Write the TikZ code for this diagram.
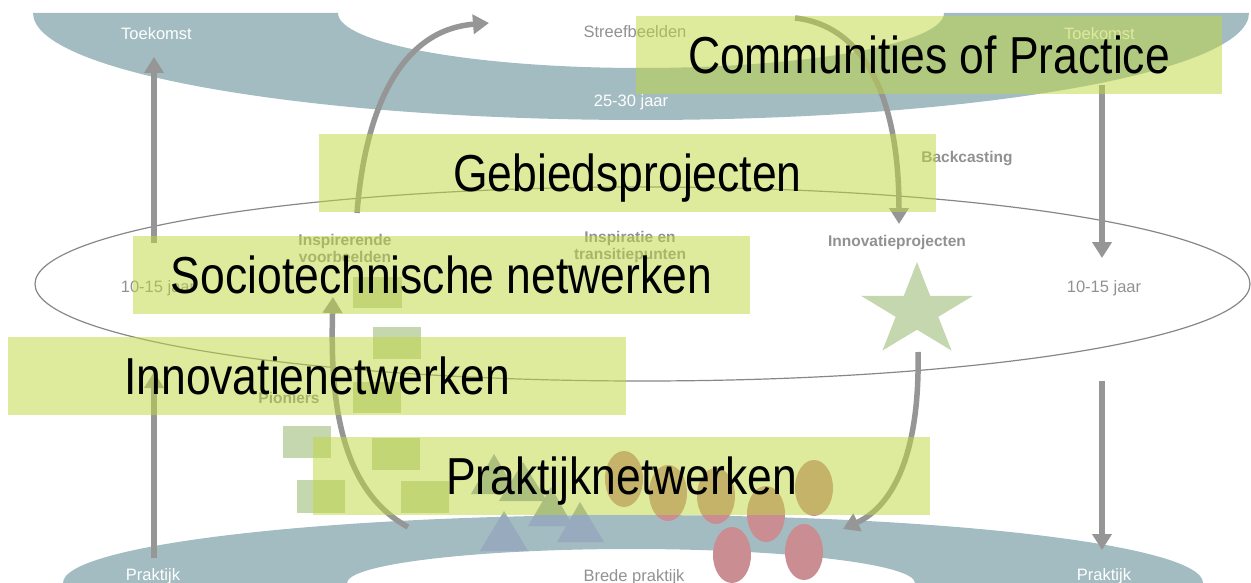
\documentclass[tikz,border=0pt]{standalone}
\usepackage{fontspec}
\setmainfont{Liberation Sans}
\newfontfamily\condfont[FakeStretch=0.855]{Liberation Sans}
\usetikzlibrary{arrows.meta}
\definecolor{bandteal}{RGB}{162,188,193}
\definecolor{boxgreen}{RGB}{192,214,66}
\definecolor{sage}{RGB}{197,215,174}
\definecolor{tri}{RGB}{151,170,190}
\definecolor{rose}{RGB}{201,141,146}
\definecolor{arrowgrey}{RGB}{150,150,150}
\definecolor{labelgrey}{RGB}{145,145,145}
\definecolor{ringgrey}{RGB}{135,135,135}
\begin{document}
\begin{tikzpicture}[x=1pt,y=-1pt,
  flow/.style={draw=arrowgrey,line width=5.5pt,-{Triangle[length=16pt,width=19pt]}},
  netbox/.style={fill=boxgreen,fill opacity=0.52,text opacity=1,minimum height=78pt,inner sep=0pt,
    text height=37pt,text depth=0pt,font=\condfont\fontsize{52}{56}\selectfont},
  tag/.style={anchor=base,inner sep=0pt,font=\fontsize{16.5}{18}\selectfont},
  boldtag/.style={inner sep=0pt,text=labelgrey,align=center,font=\bfseries\fontsize{15.5}{16.3}\selectfont},
  block/.style={fill=sage},
  peak/.style={fill=tri},
  blob/.style={fill=rose},
]
\useasboundingbox (0,0) rectangle (1251,583);
\clip (0,0) rectangle (1251,583);

% bands
\fill[bandteal] (33,13) arc[start angle=180,end angle=0,x radius=608,y radius=107]
  -- (944,13) arc[start angle=0,end angle=180,x radius=303,y radius=55] -- cycle;
\fill[bandteal] (63,583) arc[start angle=180,end angle=360,x radius=570,y radius=68]
  -- (915,583) arc[start angle=0,end angle=-180,x radius=284,y radius=34] -- cycle;

% middle ring
\draw[ringgrey,line width=1.2pt] (642.5,284) ellipse [x radius=607.5,y radius=97];

% small labels
\node[tag,text=white] (tkl) at (156.5,40) {Toekomst};
\node[tag,text=white] (tkr) at (1099.5,40) {Toekomst};
\node[tag,text=labelgrey] (streef) at (635,38) {Streefbeelden};
\node[tag,text=white] (y2530) at (631,107) {25-30 jaar};
\node[tag,text=labelgrey] (y1015l) at (158,292) {10-15 jaar};
\node[tag,text=labelgrey] (y1015r) at (1104,292) {10-15 jaar};
\node[tag,text=white] (prl) at (153,580) {Praktijk};
\node[tag,text=white] (prr) at (1104,580) {Praktijk};
\node[tag,text=labelgrey] (brede) at (634,581) {Brede praktijk};
\node[boldtag,anchor=base] (back) at (967,163) {Backcasting};
\node[boldtag,anchor=base] (innov) at (897,246) {Innovatieprojecten};
\node[boldtag,anchor=north] (insp) at (345,234.5) {Inspirerende\\voorbeelden};
\node[boldtag,anchor=north] (inspt) at (630,231.5) {Inspiratie en\\transitiepunten};
\node[boldtag,anchor=base] (pion) at (289,403) {Pioniers};

% squares
\fill[block] (353,277) rectangle (402,308);
\fill[block] (373,327) rectangle (421,359);
\fill[block] (353,382) rectangle (401,413);
\fill[block] (283,426) rectangle (331,458);
\fill[block] (372,438) rectangle (420,470);
\fill[block] (297,480) rectangle (345,513);
\fill[block] (401,481) rectangle (449,513);

% triangles
\fill[peak] (494,454) -- (518,494) -- (471,494) -- cycle;
\fill[peak] (523,462) -- (547,501) -- (499,501) -- cycle;
\fill[peak] (551,487) -- (573,526) -- (528,526) -- cycle;
\fill[peak] (504,511) -- (528,551) -- (480,551) -- cycle;
\fill[peak] (580,502) -- (604,542) -- (557,542) -- cycle;

% ellipses
\fill[blob] (624,479) ellipse [x radius=19,y radius=28];
\fill[blob] (668,493) ellipse [x radius=19,y radius=28];
\fill[blob] (716,496) ellipse [x radius=19,y radius=28];
\fill[blob] (766,514) ellipse [x radius=19,y radius=28];
\fill[blob] (814,488) ellipse [x radius=19,y radius=28];
\fill[blob] (732,555) ellipse [x radius=19,y radius=28];
\fill[blob] (804,552) ellipse [x radius=19,y radius=28];

% star
\fill[sage] (917,262) -- (930.2,295.9) -- (972.9,295.9) -- (938.3,316.8) -- (951.6,350.6)
  -- (917,329.7) -- (882.4,350.6) -- (895.7,316.8) -- (861.1,295.9) -- (903.8,295.9) -- cycle;

% arrow end points
\coordinate (aLs) at (154,243);  \coordinate (aLe) at (154,57);
\coordinate (bLs) at (154,558);  \coordinate (bLe) at (154,372);
\coordinate (aRs) at (1102,85);  \coordinate (aRe) at (1102,258);
\coordinate (bRs) at (1102,381); \coordinate (bRe) at (1102,550);
\coordinate (cUs) at (357,213);  \coordinate (cUe) at (489,23);
\coordinate (cDs) at (795,18);   \coordinate (cDe) at (899,224);
\coordinate (sDs) at (918,352);  \coordinate (sDe) at (843,529);
\coordinate (pUs) at (408,527);  \coordinate (pUe) at (333,297);

\draw[flow] (aLs) -- (aLe);
\draw[flow] (bLs) -- (bLe);
\draw[flow] (aRs) -- (aRe);
\draw[flow] (bRs) -- (bRe);
\draw[flow] (cUs) .. controls (365,110) and (400,30) .. (cUe);
\draw[flow] (cDs) .. controls (860,25) and (899,90) .. (cDe);
\draw[flow] (sDs) .. controls (920,450) and (895,505) .. (sDe);
\draw[flow] (pUs) .. controls (340,490) and (330,400) .. (pUe);

% network boxes
\node[netbox,minimum width=586pt] (cop) at (929,55.5) {Communities of Practice};
\node[netbox,minimum width=617pt] (gebied) at (627.5,173) {Gebiedsprojecten};
\node[netbox,minimum width=617pt] (socio) at (441.5,275) {Sociotechnische netwerken};
\node[netbox,minimum width=618pt] (innet) at (317,375.5) {Innovatienetwerken};
\node[netbox,minimum width=617pt] (prakt) at (621.5,476) {Praktijknetwerken};
\end{tikzpicture}
\end{document}
